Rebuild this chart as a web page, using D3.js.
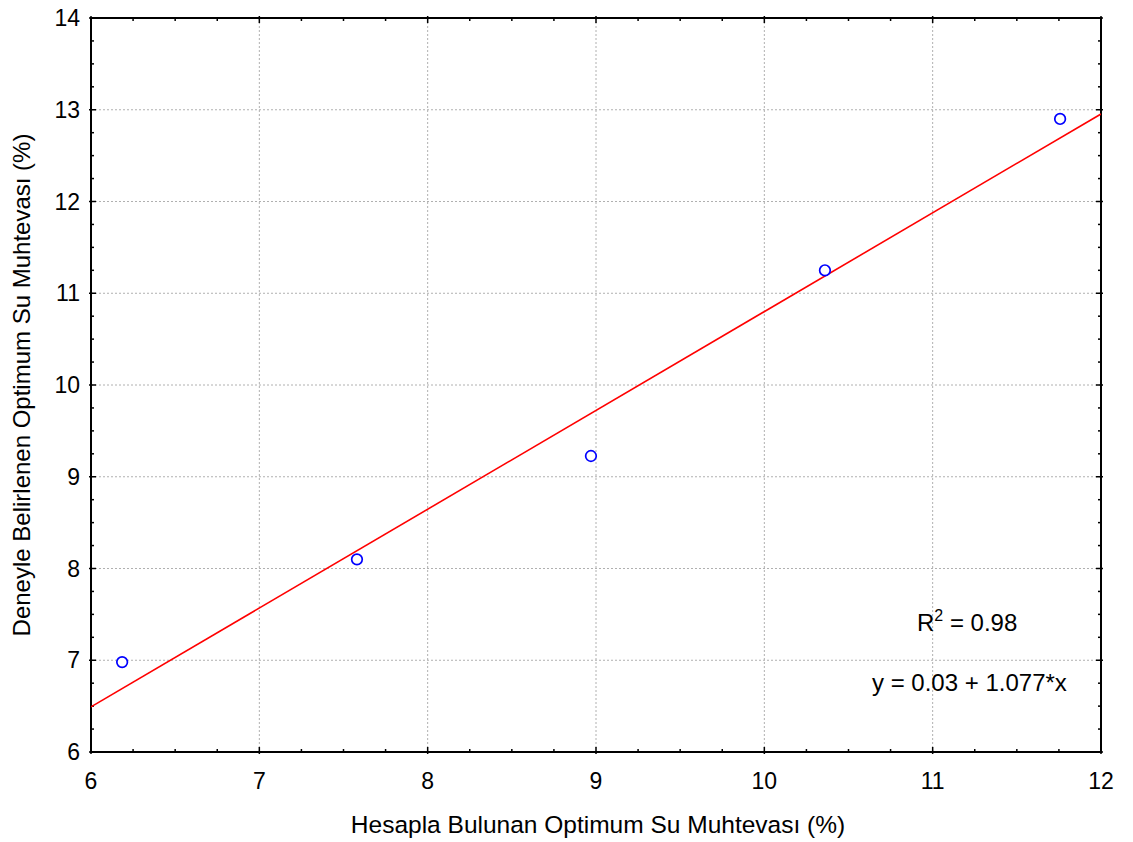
<!DOCTYPE html>
<html><head><meta charset="utf-8">
<script src="https://cdn.jsdelivr.net/npm/d3@7"></script>
<style>body{margin:0;background:#fff;} text{font-family:Arial,"Liberation Sans",sans-serif;}</style>
</head><body><svg id="c" width="1133" height="842"></svg>
<script>
const xVals = [6.185, 7.58, 8.97, 10.36, 11.757];
const yVals = [6.98, 8.10, 9.226, 11.25, 12.90];
const xTicks = [6,7,8,9,10,11,12];
const yTicks = [6,7,8,9,10,11,12,13,14];
const fitIntercept = 0.03, fitSlope = 1.077;
const xTitle = "Hesapla Bulunan Optimum Su Muhtevası (%)";
const yTitle = "Deneyle Belirlenen Optimum Su Muhtevası (%)";

const L=91,R=1101,T=18,B=752;
const svg=d3.select("#c");
const x=d3.scaleLinear().domain([6,12]).range([L,R]);
const y=d3.scaleLinear().domain([6,14]).range([B,T]);

// grid
const g=svg.append("g");
g.selectAll(".gx").data(xTicks.slice(1,-1)).enter().append("line")
 .attr("x1",d=>x(d)).attr("x2",d=>x(d)).attr("y1",T).attr("y2",B)
 .attr("stroke","#b0b0b0").attr("stroke-width",1).attr("stroke-dasharray","2,2");
g.selectAll(".gy").data(yTicks.slice(1,-1)).enter().append("line")
 .attr("y1",d=>y(d)).attr("y2",d=>y(d)).attr("x1",L).attr("x2",R)
 .attr("stroke","#b0b0b0").attr("stroke-width",1).attr("stroke-dasharray","2,2");

// minor ticks
const xMinor=d3.range(6,12.001,0.25).filter(v=>Math.abs(v-Math.round(v))>1e-6);
const yMinor=d3.range(6,14.001,0.25).filter(v=>Math.abs(v-Math.round(v))>1e-6);
const tk=svg.append("g").attr("stroke","#000").attr("stroke-width",1.5);
xMinor.forEach(v=>{
  tk.append("line").attr("x1",x(v)).attr("x2",x(v)).attr("y1",B).attr("y2",B-3);
  tk.append("line").attr("x1",x(v)).attr("x2",x(v)).attr("y1",T).attr("y2",T+3);
});
yMinor.forEach(v=>{
  tk.append("line").attr("y1",y(v)).attr("y2",y(v)).attr("x1",L).attr("x2",L+3);
  tk.append("line").attr("y1",y(v)).attr("y2",y(v)).attr("x1",R).attr("x2",R-3);
});
xTicks.forEach(v=>{
  tk.append("line").attr("x1",x(v)).attr("x2",x(v)).attr("y1",B+2).attr("y2",B-5);
  tk.append("line").attr("x1",x(v)).attr("x2",x(v)).attr("y1",T-2).attr("y2",T+5);
});
yTicks.forEach(v=>{
  tk.append("line").attr("y1",y(v)).attr("y2",y(v)).attr("x1",L-2).attr("x2",L+5);
  tk.append("line").attr("y1",y(v)).attr("y2",y(v)).attr("x1",R+2).attr("x2",R-5);
});

// frame
svg.append("rect").attr("x",L).attr("y",T).attr("width",R-L).attr("height",B-T)
 .attr("fill","none").attr("stroke","#000").attr("stroke-width",2);

// tick labels
svg.selectAll(".xl").data(xTicks).enter().append("text")
 .attr("x",d=>x(d)).attr("y",789).attr("text-anchor","middle").attr("font-size",23).text(d=>d);
svg.selectAll(".yl").data(yTicks).enter().append("text")
 .attr("x",80).attr("y",d=>y(d)+8).attr("text-anchor","end").attr("font-size",23).text(d=>d);

// titles
svg.append("text").attr("x",598).attr("y",833).attr("text-anchor","middle").attr("font-size",24.5).text(xTitle);
svg.append("text").attr("transform",`translate(30,${(T+B)/2}) rotate(-90)`).attr("text-anchor","middle").attr("font-size",24).text(yTitle);

// fit line
svg.append("clipPath").attr("id","cp").append("rect").attr("x",L).attr("y",T).attr("width",R-L).attr("height",B-T);
const fx=[6,12];
svg.append("line").attr("clip-path","url(#cp)")
 .attr("x1",x(fx[0])).attr("y1",y(fitIntercept+fitSlope*fx[0]))
 .attr("x2",x(fx[1])).attr("y2",y(fitIntercept+fitSlope*fx[1]))
 .attr("stroke","#ff0000").attr("stroke-width",1.6);

// points
svg.selectAll(".pt").data(xVals.map((v,i)=>[v,yVals[i]])).enter().append("circle")
 .attr("cx",d=>x(d[0])).attr("cy",d=>y(d[1])).attr("r",5.3)
 .attr("fill","#fff").attr("stroke","#0000ff").attr("stroke-width",1.7);

// annotations
const r2=svg.append("text").attr("x",917).attr("y",631).attr("font-size",24);
r2.append("tspan").text("R");
r2.append("tspan").attr("dy",-10).attr("font-size",16).text("2");
r2.append("tspan").attr("dy",10).text(" = 0.98");
svg.append("text").attr("x",872).attr("y",691).attr("font-size",24).text(`y = ${fitIntercept} + ${fitSlope}*x`);
</script></body></html>
